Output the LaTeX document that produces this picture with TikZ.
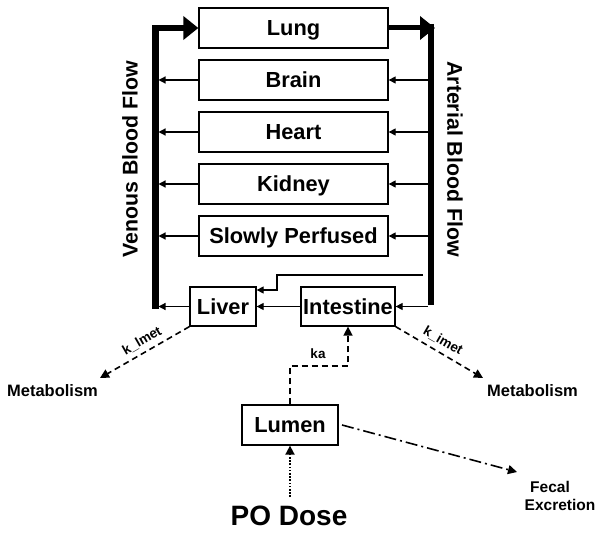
\documentclass[tikz,border=0pt]{standalone}
\usepackage{fontspec}
\setmainfont{Liberation Sans}
\usetikzlibrary{arrows.meta}
\begin{document}
\begin{tikzpicture}[x=1pt,y=-1pt,
  box/.style={draw,line width=1.3pt,inner sep=0pt,font=\fontsize{21.8}{25}\selectfont\bfseries,text height=15.5pt,text depth=0pt},
  organ/.style={box,minimum width=189pt,minimum height=40pt},
  thin/.style={line width=1.2pt,-{Triangle[length=7pt,width=7pt]}},
  bar/.style={line width=6.5pt},
  bigarrow/.style={line width=5pt,-{Triangle[length=15pt,width=23pt]}},
  dsh/.style={line width=1.6pt,dash pattern=on 6pt off 4pt,-{Triangle[length=9pt,width=9pt]}},
  dshdot/.style={line width=1.6pt,dash pattern=on 12pt off 4pt on 2pt off 4pt,-{Triangle[length=9pt,width=9pt]}},
  dots/.style={line width=1.8pt,dash pattern=on 1.6pt off 1.6pt,-{Triangle[length=9pt,width=9pt]}},
  side/.style={font=\fontsize{21.3}{25}\selectfont\bfseries},
  lab/.style={font=\fontsize{16.5}{19}\selectfont\bfseries,inner sep=0pt},
  klab/.style={font=\fontsize{13.5}{15}\selectfont\bfseries,inner sep=0pt}
]
\fill[white] (0,0) rectangle (602,534);
\useasboundingbox (0,0) rectangle (602,534);

% organ boxes
\node[organ] (lung) at (293.5,28) {Lung};
\node[organ] (brain) at (293.5,80) {Brain};
\node[organ] (heart) at (293.5,132) {Heart};
\node[organ] (kidney) at (293.5,184) {Kidney};
\node[organ] (slow) at (293.5,236) {Slowly Perfused};
\node[box,minimum width=66pt,minimum height=39pt] (liver) at (223,306.5) {Liver};
\node[box,minimum width=94pt,minimum height=39pt] (int) at (348,306.5) {Intestine};
\node[box,minimum width=96pt,minimum height=40pt] (lumen) at (290,425) {Lumen};

% bars
\coordinate (vbot) at (155.5,309);
\coordinate (atop) at (431,24);
\coordinate (abot) at (431,305);
\coordinate (vbar) at (158.5,0);
\coordinate (abar) at (427.5,0);
\draw[line width=6.5pt,line join=miter,-{Triangle[length=15pt,width=23pt]}] (vbot) |- (lung.west);
\draw[bar] (atop) -- (abot);
\coordinate (aend) at (435,28);
\draw[bigarrow] (lung.east) -- (aend);

% side labels
\node[side,rotate=90] (ven) at (130,159) {Venous Blood Flow};
\node[side,rotate=-90] (art) at (455,159) {Arterial Blood Flow};

% organ flows
\foreach \o in {brain,heart,kidney,slow}{
  \draw[thin] (\o.east -| abar) -- (\o.east);
  \draw[thin] (\o.west) -- (\o.west -| vbar);
}
\draw[thin] (int.east -| abar) -- (int.east);
\draw[thin] (int.west) -- (liver.east);
\draw[thin] (liver.west) -- (liver.west -| vbar);

% hepatic artery
\coordinate (ha1) at (423,275);
\coordinate (ha2) at (277,275);
\coordinate (ha3) at (277,290);
\draw[thin] (ha1) -- (ha2) -- (ha3) -- (ha3 -| liver.east);

% metabolism
\node[lab] (metl) at (52.5,391) {Metabolism};
\node[lab] (metr) at (532.5,391) {Metabolism};
\coordinate (lmetend) at (100,378);
\coordinate (imetend) at (483,378);
\draw[dsh] (liver.south west) -- (lmetend);
\draw[dsh] (int.south east) -- (imetend);
\node[klab,rotate=30] (klmet) at (142,341) {k\_lmet};
\node[klab,rotate=-30] (kimet) at (443,341) {k\_imet};

% absorption
\coordinate (ka1) at (290,366);
\coordinate (ka2) at (348,366);
\draw[dsh] (lumen.north) -- (ka1) -- (ka2) -- (int.south);
\node[klab] (ka) at (318,354) {ka};

% dose
\node[font=\fontsize{28}{32}\selectfont\bfseries,inner sep=0pt,anchor=base] (po) at (289,525) {PO Dose};
\coordinate (potop) at (290,497);
\draw[dots] (potop) -- (lumen.south);

% fecal
\node[font=\fontsize{15.5}{18}\selectfont\bfseries,align=center,inner sep=0pt] (fecal) at (560,496) {Fecal\kern20pt\\Excretion};
\coordinate (fecend) at (517,472);
\coordinate (lumout) at (342,425);
\draw[dshdot] (lumout) -- (fecend);
\end{tikzpicture}
\end{document}
